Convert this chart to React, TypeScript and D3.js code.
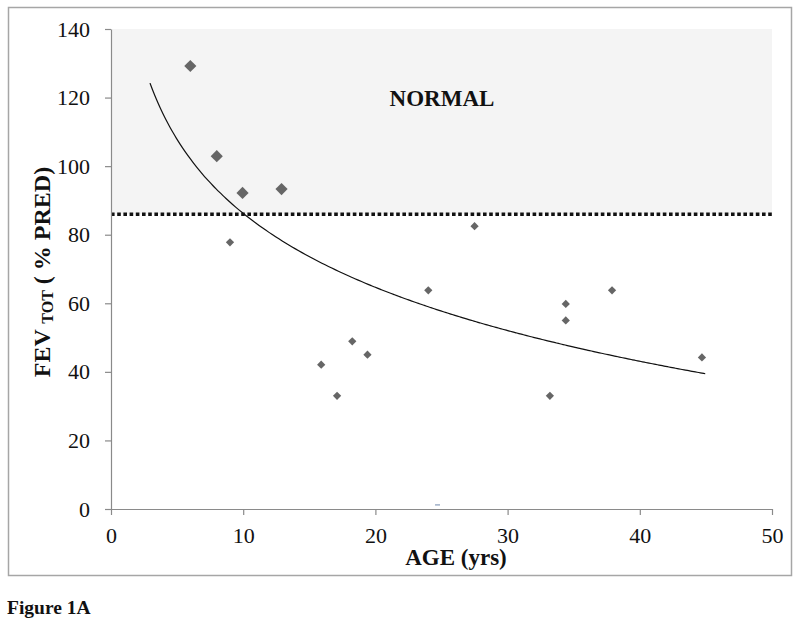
import { useEffect, useRef } from "react";
import * as d3 from "d3";

// values
const ages = [6, 8, 9.95, 12.9, 9.0, 27.5, 24.0, 34.4, 34.4, 37.9, 44.7, 33.2, 18.25, 19.4, 15.9, 17.1];
const fevPct = [129.2, 102.9, 92.2, 93.3, 77.8, 82.5, 63.8, 59.8, 55.0, 63.8, 44.2, 33.0, 48.9, 45.0, 42.1, 33.0];
const markerKind = ["big", "big", "big", "big", "small", "small", "small", "small", "small", "small", "small", "small", "small", "small", "small", "small"];
const strayMark = [{ age: 24.7, fev: 1.2 }];

const xTicks = [0, 10, 20, 30, 40, 50];
const yTicks = [0, 20, 40, 60, 80, 100, 120, 140];
const normalCutoff = 86;
const trendRange = [2.95, 45];

const serif = "'Liberation Serif', 'Times New Roman', serif";

export default function App() {
  const svgRef = useRef<SVGSVGElement | null>(null);

  useEffect(() => {
    const svg = d3.select(svgRef.current);
    svg.selectAll("*").remove();

    const width = 800;
    const height = 628;

    const x = d3.scaleLinear().domain([0, 50]).range([111, 772]);
    const y = d3.scaleLinear().domain([0, 140]).range([509, 29]);

    svg.append("rect").attr("width", width).attr("height", height).attr("fill", "#fff");

    // outer frame
    svg.append("rect")
      .attr("x", 8.5).attr("y", 7.5)
      .attr("width", 783).attr("height", 568)
      .attr("fill", "none")
      .attr("stroke", "#a6a6a6")
      .attr("stroke-width", 1.5);

    // shaded "normal" zone
    svg.append("rect")
      .attr("x", x(0)).attr("y", y(140))
      .attr("width", x(50) - x(0))
      .attr("height", y(normalCutoff) - y(140))
      .attr("fill", "#f4f4f4");

    const defs = svg.append("defs");
    defs.append("filter").attr("id", "blur")
      .append("feGaussianBlur").attr("stdDeviation", 1.3);

    // shadow + dotted cutoff line
    svg.append("line")
      .attr("x1", x(0)).attr("x2", x(50))
      .attr("y1", y(normalCutoff) + 3).attr("y2", y(normalCutoff) + 3)
      .attr("stroke", "#b5b5b5")
      .attr("stroke-width", 3)
      .attr("filter", "url(#blur)");
    svg.append("line")
      .attr("x1", x(0)).attr("x2", x(50))
      .attr("y1", y(normalCutoff)).attr("y2", y(normalCutoff))
      .attr("stroke", "#111")
      .attr("stroke-width", 3.5)
      .attr("stroke-dasharray", "3.6 2.6");

    // axes
    const axisColor = "#8a8a8a";
    const yAxis = svg.append("g")
      .attr("transform", `translate(${x(0)},0)`)
      .call(d3.axisLeft(y).tickValues(yTicks).tickSize(6).tickSizeOuter(0).tickPadding(15).tickFormat(d3.format("d")));
    const xAxis = svg.append("g")
      .attr("transform", `translate(0,${y(0)})`)
      .call(d3.axisBottom(x).tickValues(xTicks).tickSize(6).tickSizeOuter(0).tickPadding(12).tickFormat(d3.format("d")));
    [yAxis, xAxis].forEach((g) => {
      g.select(".domain").attr("stroke", axisColor).attr("stroke-width", 1.2);
      g.selectAll(".tick line").attr("stroke", axisColor).attr("stroke-width", 1.2);
      g.selectAll(".tick text")
        .attr("fill", "#111")
        .style("font-family", serif)
        .style("font-size", "22px");
    });

    // log trend line fitted to the points
    const lx = ages.map((a) => Math.log(a));
    const mx = d3.mean(lx) as number;
    const my = d3.mean(fevPct) as number;
    const slope = d3.sum(lx, (v, i) => (v - mx) * (fevPct[i] - my)) / d3.sum(lx, (v) => (v - mx) ** 2);
    const intercept = my - slope * mx;
    const trendPts = d3.range(trendRange[0], trendRange[1] + 0.01, 0.25);
    svg.append("path")
      .datum(trendPts)
      .attr("fill", "none")
      .attr("stroke", "#111")
      .attr("stroke-width", 1.2)
      .attr("d", d3.line<number>()
        .x((d) => x(d))
        .y((d) => y(intercept + slope * Math.log(d)))
        .curve(d3.curveMonotoneX));

    // points
    const pts = ages.map((a, i) => ({ age: a, fev: fevPct[i], kind: markerKind[i] }));
    svg.selectAll("path.dot")
      .data(pts)
      .enter()
      .append("path")
      .attr("class", "dot")
      .attr("transform", (d) => `translate(${x(d.age)},${y(d.fev)}) rotate(45)`)
      .attr("d", (d) => d3.symbol(d3.symbolSquare, d.kind === "big" ? 74 : 34)())
      .attr("fill", "#666");

    svg.selectAll("line.stray")
      .data(strayMark)
      .enter()
      .append("line")
      .attr("class", "stray")
      .attr("x1", (d) => x(d.age) - 2.5).attr("x2", (d) => x(d.age) + 2.5)
      .attr("y1", (d) => y(d.fev)).attr("y2", (d) => y(d.fev))
      .attr("stroke", "#9fb0c8")
      .attr("stroke-width", 1.5);

    // labels
    svg.append("text")
      .attr("x", 442).attr("y", 106)
      .attr("text-anchor", "middle")
      .style("font-family", serif)
      .style("font-weight", "bold")
      .style("font-size", "23px")
      .attr("fill", "#111")
      .text("NORMAL");

    svg.append("text")
      .attr("x", 456).attr("y", 565)
      .attr("text-anchor", "middle")
      .style("font-family", serif)
      .style("font-weight", "bold")
      .style("font-size", "23px")
      .attr("fill", "#111")
      .text("AGE (yrs)");

    const yLabel = svg.append("text")
      .attr("transform", "translate(50,272) rotate(-90)")
      .attr("text-anchor", "middle")
      .style("font-family", serif)
      .style("font-weight", "bold")
      .style("font-size", "24px")
      .attr("fill", "#111");
    yLabel.append("tspan").text("FEV ");
    yLabel.append("tspan").attr("dy", 3).style("font-size", "16px").text("TOT");
    yLabel.append("tspan").attr("dy", -3).text(" ( % PRED)");

    svg.append("text")
      .attr("x", 7).attr("y", 614)
      .style("font-family", serif)
      .style("font-weight", "bold")
      .style("font-size", "19.5px")
      .attr("fill", "#111")
      .text("Figure 1A");
  }, []);

  return (
    <svg
      ref={svgRef}
      width={800}
      height={628}
      style={{ position: "absolute", left: 0, top: 0, display: "block" }}
    />
  );
}
